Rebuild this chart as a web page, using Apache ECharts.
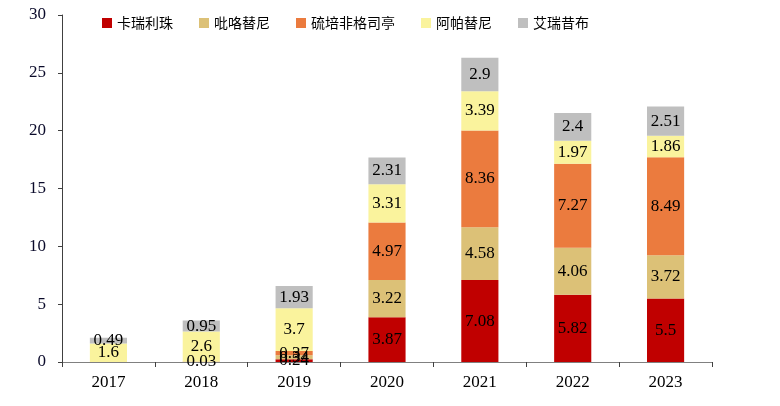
<!DOCTYPE html>
<html>
<head>
<meta charset="utf-8">
<script src="https://cdn.jsdelivr.net/npm/echarts@6/dist/echarts.min.js"></script>
<style>
  html, body { margin: 0; padding: 0; background: #fff; }
  #chart { width: 780px; height: 406px; }
</style>
</head>
<body>
<div id="chart"></div>
<script>
'use strict';

const years = ['2017', '2018', '2019', '2020', '2021', '2022', '2023'];

// 卡瑞利珠
const camrelizumab = [null, 0.03, 0.24, 3.87, 7.08, 5.82, 5.5];
// 吡咯替尼
const pyrotinib = [null, null, 0.34, 3.22, 4.58, 4.06, 3.72];
// 硫培非格司亭
const pegfilgrastim = [null, null, 0.37, 4.97, 8.36, 7.27, 8.49];
// 阿帕替尼
const apatinib = [1.6, 2.6, 3.7, 3.31, 3.39, 1.97, 1.86];
// 艾瑞昔布
const imrecoxib = [0.49, 0.95, 1.93, 2.31, 2.9, 2.4, 2.51];

const yTicks = [0, 5, 10, 15, 20, 25, 30];

const seriesDefs = [
    { name: '卡瑞利珠', data: camrelizumab, color: '#C00000' },
    { name: '吡咯替尼', data: pyrotinib, color: '#DCC177' },
    { name: '硫培非格司亭', data: pegfilgrastim, color: '#EB7B3E' },
    { name: '阿帕替尼', data: apatinib, color: '#FAF39D' },
    { name: '艾瑞昔布', data: imrecoxib, color: '#BFBFBF' },
];

const serif = '"Liberation Serif", "Times New Roman", serif';
const cjk = '"Noto Sans CJK SC", sans-serif';

const chart = echarts.init(document.getElementById('chart'));

chart.setOption({
    animation: false,
    legend: {
        left: 97,
        top: 11,
        itemWidth: 10,
        itemHeight: 10,
        itemGap: 26,
        icon: 'rect',
        textStyle: { fontFamily: cjk, fontSize: 14, color: '#000' },
        data: seriesDefs.map((s) => s.name),
    },
    grid: { left: 62, right: 68, top: 15, bottom: 44 },
    xAxis: {
        type: 'category',
        data: years,
        axisLine: { lineStyle: { color: '#808080', width: 1 } },
        axisTick: { show: true, inside: false, length: 5, lineStyle: { color: '#404040' } },
        axisLabel: { fontFamily: serif, fontSize: 17, color: '#000', margin: 12 },
    },
    yAxis: {
        type: 'value',
        min: yTicks[0],
        max: yTicks[yTicks.length - 1],
        interval: 5,
        splitLine: { show: false },
        axisLine: { show: true, lineStyle: { color: '#404040', width: 1 } },
        axisTick: { show: true, length: 4, lineStyle: { color: '#404040' } },
        axisLabel: { fontFamily: serif, fontSize: 17, color: '#0a0a2a', margin: 16 },
    },
    series: seriesDefs.map((s) => ({
        name: s.name,
        type: 'bar',
        stack: 'total',
        barWidth: '40%',
        data: s.data,
        itemStyle: { color: s.color },
        label: {
            show: true,
            position: 'inside',
            fontFamily: serif,
            fontSize: 17,
            color: '#000',
            formatter: (p) => (p.value == null ? '' : String(p.value)),
        },
    })),
});
</script>
</body>
</html>
